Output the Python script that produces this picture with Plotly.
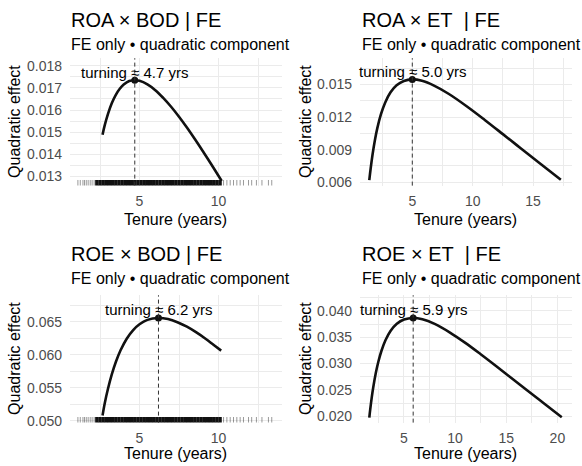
import plotly.graph_objects as go

W, H = 582, 466          # reference frame (pixels)
FIG_H = 474              # rendered figure height (photo is squeezed to 466)

# ---------------- data ----------------
titles = ["ROA × BOD | FE", "ROA × ET\u00a0 | FE", "ROE × BOD | FE", "ROE × ET\u00a0 | FE"]
subtitle = "FE only • quadratic component"

roa_bod_x = [2.66, 2.8, 3.0, 3.25, 3.5, 3.75, 4.0, 4.35, 4.7, 5.0, 5.5, 6.0, 6.5, 7.0, 7.5, 8.0, 8.5, 9.0, 9.5, 10.2]
roa_bod_y = [0.01489, 0.01532, 0.01582, 0.01632, 0.01669, 0.01696, 0.01715, 0.01731, 0.01735, 0.01732,
             0.01716, 0.01690, 0.01655, 0.01615, 0.01570, 0.01521, 0.01469, 0.01415, 0.01360, 0.01280]

roa_et_x = [1.44, 1.55, 1.7, 1.9, 2.1, 2.4, 2.75, 3.2, 3.7, 4.3, 5.0, 5.8, 6.8, 8.0, 9.5, 11.0, 12.5, 14.0, 15.5, 17.3]
roa_et_y = [0.00620, 0.00724, 0.00849, 0.00985, 0.01096, 0.01224, 0.01333, 0.01428, 0.01493, 0.01533,
            0.01547, 0.01534, 0.01490, 0.01415, 0.01300, 0.01174, 0.01043, 0.00911, 0.00779, 0.00622]

roe_bod_x = [2.66, 2.8, 3.0, 3.25, 3.5, 3.8, 4.2, 4.6, 5.0, 5.5, 6.2, 6.8, 7.4, 8.0, 8.6, 9.2, 9.7, 10.17]
roe_bod_y = [0.05080, 0.05266, 0.05481, 0.05706, 0.05891, 0.06070, 0.06250, 0.06378, 0.06466, 0.06532,
             0.06561, 0.06544, 0.06497, 0.06428, 0.06341, 0.06242, 0.06150, 0.06065]

roe_et_x = [1.61, 1.7, 1.85, 2.0, 2.25, 2.5, 2.8, 3.2, 3.7, 4.3, 5.0, 5.9, 6.8, 8.0, 9.5, 11.0, 12.5, 14.0, 15.5, 17.0, 18.7, 20.43]
roe_et_y = [0.01976, 0.02131, 0.02358, 0.02554, 0.02824, 0.03039, 0.03243, 0.03446, 0.03621, 0.03753, 0.03834,
            0.03865, 0.03840, 0.03752, 0.03588, 0.03392, 0.03177, 0.02954, 0.02727, 0.02499, 0.02242, 0.01983]

turning_x = [4.7, 5.0, 6.2, 5.9]
turning_y = [0.01735, 0.01547, 0.06561, 0.03865]
turning_labels = ["turning ≈ 4.7 yrs", "turning ≈ 5.0 yrs", "turning ≈ 6.2 yrs", "turning ≈ 5.9 yrs"]

# observed tenure values (rug) for BOD panels
rug_dense = [2.3, 2.5, 2.7, 2.9, 3.1, 3.3, 3.5, 3.7, 3.9, 4.1, 4.3, 4.5, 4.7, 4.9, 5.1, 5.3, 5.5, 5.7, 5.9, 6.1,
             6.3, 6.5, 6.7, 6.9, 7.1, 7.3, 7.5, 7.7, 7.9, 8.1, 8.3, 8.5, 8.7, 8.9, 9.1, 9.3, 9.5, 9.7, 9.9, 10.1]
rug_sparse = [1.1, 1.25, 1.42, 1.52, 1.63, 1.75, 1.88, 2.0, 2.13, 10.32, 10.53, 10.74, 10.95, 11.16,
              11.37, 11.58, 11.9, 12.1, 12.4, 12.75, 13.16, 13.37]

x_ranges = [[0.6, 14.0], [0.67, 18.2], [0.6, 14.0], [0.7, 21.4]]
y_ranges = [[0.01259, 0.01834], [0.00569, 0.01742], [0.04971, 0.06906], [0.0188, 0.04295]]
x_dticks = [5, 5, 5, 5]
y_dticks = [0.001, 0.003, 0.005, 0.005]
has_rug = [True, False, True, False]

curves_x = [roa_bod_x, roa_et_x, roe_bod_x, roe_et_x]
curves_y = [roa_bod_y, roa_et_y, roe_bod_y, roe_et_y]

# ---------------- layout (pixel boxes in the 582x466 reference frame) ----------------
FONT = "Liberation Sans, Arial, sans-serif"
col_left = [70, 360]
plot_w = 211.7
row_top = [58, 294]
plot_h = 126.8
cell_x = [0, 291]
cell_y = [0, 233]

def px(x):
    return x / W

def py(y):
    return 1 - y / H

fig = go.Figure()
layout = dict(width=W, height=FIG_H, margin=dict(l=0, r=0, t=0, b=0),
              paper_bgcolor="white", plot_bgcolor="white", showlegend=False,
              font=dict(family=FONT, color="black"))
annotations = []
shapes = []
GRID = "#ebebeb"

for i in range(4):
    r, c = divmod(i, 2)
    xa = "x" if i == 0 else f"x{i+1}"
    ya = "y" if i == 0 else f"y{i+1}"
    xkey = "xaxis" if i == 0 else f"xaxis{i+1}"
    ykey = "yaxis" if i == 0 else f"yaxis{i+1}"
    x0 = col_left[c]
    y0 = row_top[r]
    layout[xkey] = dict(domain=[px(x0), px(x0 + plot_w)], range=x_ranges[i], anchor=ya,
                        tickmode="linear", tick0=0, dtick=x_dticks[i],
                        showgrid=True, gridcolor=GRID, gridwidth=1.1, zeroline=False, showline=False,
                        ticks="", ticklabelstandoff=5,
                        tickfont=dict(family=FONT, size=14, color="#4d4d4d"),
                        minor=dict(tickmode="linear", tick0=0, dtick=x_dticks[i] / 2, showgrid=True,
                                   gridcolor=GRID, gridwidth=0.6, ticks=""))
    layout[ykey] = dict(domain=[py(y0 + plot_h), py(y0)], range=y_ranges[i], anchor=xa,
                        tickmode="linear", tick0=0, dtick=y_dticks[i], tickformat=".3f",
                        showgrid=True, gridcolor=GRID, gridwidth=1.1, zeroline=False, showline=False,
                        ticks="", ticklabelstandoff=7,
                        tickfont=dict(family=FONT, size=14, color="#4d4d4d"),
                        minor=dict(tickmode="linear", tick0=0, dtick=y_dticks[i] / 2, showgrid=True,
                                   gridcolor=GRID, gridwidth=0.6, ticks=""))

    ymin = y_ranges[i][0]
    if has_rug[i]:
        fig.add_trace(go.Scatter(x=rug_sparse, y=[ymin] * len(rug_sparse), mode="markers",
                                 marker=dict(symbol="line-ns", size=8,
                                             line=dict(width=1, color="rgba(0,0,0,0.4)")),
                                 xaxis=xa, yaxis=ya, hoverinfo="skip"))
        fig.add_trace(go.Scatter(x=rug_dense, y=[ymin] * len(rug_dense), mode="markers",
                                 marker=dict(symbol="line-ns", size=8,
                                             line=dict(width=3.4, color="#111111")),
                                 xaxis=xa, yaxis=ya, hoverinfo="skip"))

    fig.add_trace(go.Scatter(x=curves_x[i], y=curves_y[i], mode="lines",
                             line=dict(color="#111111", width=2.6, shape="spline"),
                             xaxis=xa, yaxis=ya))
    shapes.append(dict(type="line", xref=xa, yref=f"{ya} domain", x0=turning_x[i], x1=turning_x[i],
                       y0=0, y1=1, line=dict(color="#333333", width=1, dash="4px,3px")))
    fig.add_trace(go.Scatter(x=[turning_x[i]], y=[turning_y[i]], mode="markers",
                             marker=dict(color="#111111", size=7), xaxis=xa, yaxis=ya))
    annotations.append(dict(x=turning_x[i], y=turning_y[i], xref=xa, yref=ya, text=turning_labels[i],
                            showarrow=False, yshift=8, xanchor="center", yanchor="middle",
                            font=dict(family=FONT, size=15, color="black")))

    # titles
    annotations.append(dict(x=px(cell_x[c] + 69), y=py(cell_y[r] + 20), xref="paper", yref="paper",
                            text=titles[i], showarrow=False, xanchor="left", yanchor="middle",
                            font=dict(family=FONT, size=20, color="black")))
    annotations.append(dict(x=px(cell_x[c] + 69), y=py(cell_y[r] + 44), xref="paper", yref="paper",
                            text=subtitle, showarrow=False, xanchor="left", yanchor="middle",
                            font=dict(family=FONT, size=16, color="black")))
    # axis titles
    annotations.append(dict(x=px(x0 + plot_w / 2), y=py(cell_y[r] + 219), xref="paper", yref="paper",
                            text="Tenure (years)", showarrow=False, xanchor="center", yanchor="middle",
                            font=dict(family=FONT, size=16, color="black")))
    annotations.append(dict(x=px(cell_x[c] + 15), y=py(y0 + plot_h / 2), xref="paper", yref="paper",
                            text="Quadratic effect", showarrow=False, textangle=-90,
                            xanchor="center", yanchor="middle",
                            font=dict(family=FONT, size=16, color="black")))

layout["annotations"] = annotations
layout["shapes"] = shapes
fig.update_layout(**layout)
fig.write_html("out.html", config={"displayModeBar": False},
               post_script="document.body.style.margin='0';document.body.style.overflow='hidden';")
